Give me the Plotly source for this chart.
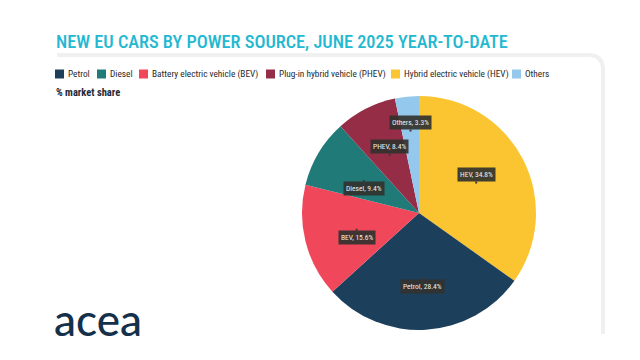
import math
import plotly.graph_objects as go

labels = ["Hybrid electric vehicle (HEV)", "Petrol", "Battery electric vehicle (BEV)",
          "Diesel", "Plug-in hybrid vehicle (PHEV)", "Others"]
short_labels = ["HEV", "Petrol", "BEV", "Diesel", "PHEV", "Others"]
shares = [34.8, 28.4, 15.6, 9.4, 8.4, 3.3]
colors = ["#fbc531", "#1c3f5c", "#f0475b", "#1f7a78", "#952d46", "#94c8ec"]
legend_order = [1, 3, 2, 4, 0, 5]  # Petrol, Diesel, BEV, PHEV, HEV, Others
legend_x = [55, 97, 139, 266, 391, 512]  # symbol left edges (px)

W, H = 640, 360
CX, CY, R = 419, 213, 117

FONT = "Roboto Condensed, Roboto, sans-serif"

fig = go.Figure()
fig.add_trace(go.Pie(
    labels=labels, values=shares, sort=False, direction="clockwise", rotation=0,
    marker=dict(colors=colors, line=dict(color="white", width=0)),
    textinfo="none", hoverinfo="label+percent", showlegend=False,
    domain=dict(x=[(CX - R) / W, (CX + R) / W], y=[1 - (CY + R) / H, 1 - (CY - R) / H]),
))

annotations = []
shapes = []
total = sum(shares)
cum = 0
for lab, v in zip(short_labels, shares):
    mid = (cum + v / 2) / total * 2 * math.pi
    cum += v
    d = (0.7 if v < 5 else 0.55) * R
    px = CX + d * math.sin(mid)
    py = CY - d * math.cos(mid)
    above = py < CY and lab != "Diesel"
    annotations.append(dict(
        x=px / W, y=1 - py / H, xref="paper", yref="paper",
        text=f"{lab}, {v}%", showarrow=True, ax=0, ay=-9 if above else 9,
        arrowhead=0, arrowwidth=2, arrowcolor="#3a3a36",
        bgcolor="rgba(50,50,46,0.92)", borderpad=2,
        font=dict(family=FONT, size=7.5, color="#f0f0f0"),
    ))

# manual legend
LY = 74
for i, lx in zip(legend_order, legend_x):
    shapes.append(dict(type="rect", xref="paper", yref="paper",
                       x0=lx / W, x1=(lx + 9) / W, y0=1 - (LY + 4.5) / H, y1=1 - (LY - 4.5) / H,
                       fillcolor=colors[i], line=dict(width=0)))
    annotations.append(dict(x=(lx + 11) / W, y=1 - LY / H, xref="paper", yref="paper",
                            xanchor="left", yanchor="middle", text=labels[i], showarrow=False,
                            font=dict(family=FONT, size=9.3, color="#2a2a2a")))

annotations += [
    dict(x=54 / W, y=1 - 41 / H, xref="paper", yref="paper", xanchor="left", yanchor="middle",
         text="NEW EU CARS BY POWER SOURCE, JUNE 2025 YEAR-TO-DATE", showarrow=False,
         font=dict(family=FONT, size=18.3, color="#22b8d1", weight=500)),
    dict(x=54 / W, y=1 - 93 / H, xref="paper", yref="paper", xanchor="left", yanchor="middle",
         text="<b>% market share</b>", showarrow=False,
         font=dict(family=FONT, size=10.5, color="#1d2a3a")),
    dict(x=98 / W, y=1 - 319 / H, xref="paper", yref="paper", xanchor="center", yanchor="middle",
         text="acea", showarrow=False,
         font=dict(family="Lato, Noto Sans, sans-serif", size=44, color="#15304a", weight=500)),
]

shapes.append(
    dict(type="path", xref="paper", yref="paper",
         path=f"M {57/W} {1-55/H} L {588/W} {1-55/H} Q {603/W} {1-55/H} {603/W} {1-70/H} L {603/W} {1-334/H}",
         line=dict(color="#f0f0f0", width=4)))

fig.update_layout(
    width=W, height=H, margin=dict(l=0, r=0, t=0, b=0),
    paper_bgcolor="white", plot_bgcolor="white", showlegend=False,
    xaxis=dict(visible=False), yaxis=dict(visible=False),
    annotations=annotations, shapes=shapes,
)

fig.write_html("out.html", config={"displayModeBar": False},
               post_script="document.body.style.margin='0';")
